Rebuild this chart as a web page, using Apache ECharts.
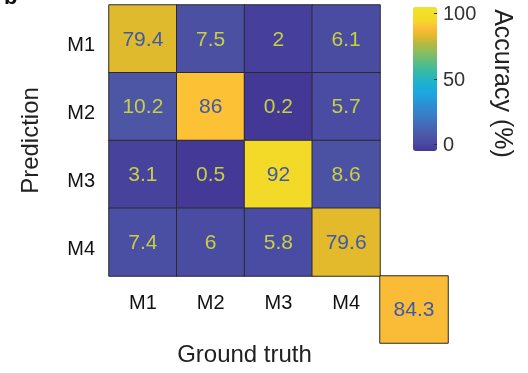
<!DOCTYPE html>
<html><head><meta charset="utf-8">
<script src="https://cdn.jsdelivr.net/npm/echarts@6/dist/echarts.min.js"></script>
<style>html,body{margin:0;padding:0;background:#fff}#c{width:528px;height:373px}</style>
</head><body><div id="c"></div>
<script>
// ---- data ----
const predLabels = ['M1', 'M2', 'M3', 'M4'];   // rows (Prediction)
const truthLabels = ['M1', 'M2', 'M3', 'M4'];  // columns (Ground truth)
const rowM1 = [79.4, 7.5, 2, 6.1];
const rowM2 = [10.2, 86, 0.2, 5.7];
const rowM3 = [3.1, 0.5, 92, 8.6];
const rowM4 = [7.4, 6, 5.8, 79.6];
const overallAccuracy = 84.3;
const colorbarTicks = [0, 50, 100];
const colorbarRange = [-5, 105];

// ---- styling ----
const cmap = ['#443797','#494aa1','#4c55a5','#4762b0','#416fbc','#3a7ec8','#3189d0','#2598da',
  '#1ea6de','#1caed6','#24b5c2','#36b9a6','#52bc8c','#72bd72','#94bd56','#b8b842',
  '#e6ba2a','#fdbc38','#f6d62a','#f2df26','#ece434'];
const hiText = '#3d5aa9', loText = '#c6d141';
const FONT = 'Liberation Sans, Arial, Helvetica, sans-serif';

const rows = [rowM1, rowM2, rowM3, rowM4];
const mainData = [];
rows.forEach((row, r) => row.forEach((v, c) => {
  mainData.push({ value: [c, r, v], label: { color: v > 50 ? hiText : loText } });
}));
const extraData = [{ value: [0, 0, overallAccuracy], label: { color: overallAccuracy > 50 ? hiText : loText } }];

const chart = echarts.init(document.getElementById('c'), null, { renderer: 'canvas' });
chart.setOption({
  animation: false,
  backgroundColor: '#fff',
  graphic: [{
    type: 'text', left: 4, top: -13, silent: true,
    style: { text: 'b', font: 'bold 22px ' + FONT, fill: '#111' }
  }],
  grid: [
    { left: 109, top: 5, width: 271, height: 271 },
    { left: 380, top: 276, width: 68, height: 67 },
    { left: 413, top: 7, width: 24, height: 144 }
  ],
  xAxis: [
    { type: 'category', gridIndex: 0, data: truthLabels, position: 'bottom',
      axisLine: { show: false }, axisTick: { show: false }, splitLine: { show: false },
      axisLabel: { margin: 17, fontSize: 20, color: '#111', fontFamily: FONT },
      name: 'Ground truth', nameLocation: 'middle', nameGap: 67,
      nameTextStyle: { fontSize: 24, color: '#222', fontFamily: FONT } },
    { type: 'category', gridIndex: 1, data: [''], show: false },
    { type: 'category', gridIndex: 2, data: [''], show: false }
  ],
  yAxis: [
    { type: 'category', gridIndex: 0, data: predLabels, inverse: true,
      axisLine: { show: false }, axisTick: { show: false }, splitLine: { show: false },
      axisLabel: { margin: 14, fontSize: 20, color: '#111', fontFamily: FONT,
        verticalAlign: 'top', lineHeight: 14 },
      name: 'Prediction', nameLocation: 'middle', nameGap: 66, nameRotate: 90,
      nameTextStyle: { fontSize: 24, color: '#222', fontFamily: FONT } },
    { type: 'category', gridIndex: 1, data: [''], show: false },
    { type: 'value', gridIndex: 2, position: 'right', min: colorbarRange[0], max: colorbarRange[1], z: 10,
      axisLine: { show: false, onZero: false }, splitLine: { show: false },
      axisTick: { show: true, inside: true, length: 3, customValues: colorbarTicks, lineStyle: { color: '#333' } },
      axisLabel: { margin: 6, fontSize: 20, color: '#333', fontFamily: FONT, customValues: colorbarTicks,
        verticalAlign: 'top', lineHeight: 2 },
      name: 'Accuracy (%)', nameLocation: 'middle', nameGap: 52, nameRotate: -90,
      nameTextStyle: { fontSize: 25, color: '#222', fontFamily: FONT, padding: [0, 0, 0, 9] } }
  ],
  visualMap: {
    type: 'continuous', min: 0, max: 100, orient: 'vertical', z: 2,
    left: 413, top: 7, itemWidth: 24, itemHeight: 144, padding: 0,
    calculable: false, hoverLink: false, text: null, showLabel: false,
    seriesIndex: [0, 1], inRange: { color: cmap }
  },
  series: [
    { type: 'heatmap', xAxisIndex: 0, yAxisIndex: 0, data: mainData,
      itemStyle: { borderColor: '#2a2a2a', borderWidth: 1 },
      label: { show: true, fontSize: 21, fontFamily: FONT, formatter: p => p.value[2], offset: [0, 1] },
      emphasis: { disabled: true } },
    { type: 'heatmap', xAxisIndex: 1, yAxisIndex: 1, data: extraData,
      itemStyle: { borderColor: '#2a2a2a', borderWidth: 1 },
      label: { show: true, fontSize: 21, fontFamily: FONT, formatter: p => p.value[2], offset: [0, 1] },
      emphasis: { disabled: true } }
  ]
});
</script></body></html>
